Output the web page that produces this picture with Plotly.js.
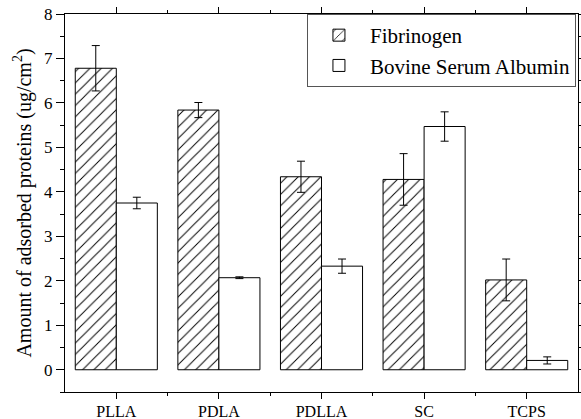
<!DOCTYPE html>
<html><head><meta charset="utf-8">
<script src="https://cdn.plot.ly/plotly-3.0.1.min.js"></script>
<style>html,body{margin:0;padding:0;background:#fff}#chart{width:581px;height:419px}</style>
</head><body><div id="chart"></div>
<script>
const categories = ["PLLA", "PDLA", "PDLLA", "SC", "TCPS"];
const fibrinogen = [6.78, 5.84, 4.34, 4.28, 2.02];
const fibrinogenErr = [0.51, 0.17, 0.35, 0.58, 0.47];
const bsa = [3.75, 2.07, 2.33, 5.47, 0.21];
const bsaErr = [0.13, 0.02, 0.16, 0.33, 0.08];
const seriesNames = ["Fibrinogen", "Bovine Serum Albumin"];

const xpos = categories.map((c, i) => i);
const font = {family: "'Liberation Serif', 'DejaVu Serif', serif", color: "#000"};

const traces = [
  {type: "bar", name: seriesNames[0], x: xpos, y: fibrinogen,
   error_y: {type: "data", array: fibrinogenErr, visible: true, color: "#000", thickness: 1, width: 4},
   marker: {color: "#fff", line: {color: "#000", width: 1},
            pattern: {shape: "/", fgcolor: "#000", bgcolor: "#fff", size: 8, solidity: 0.12}}},
  {type: "bar", name: seriesNames[1], x: xpos, y: bsa,
   error_y: {type: "data", array: bsaErr, visible: true, color: "#000", thickness: 1, width: 4},
   marker: {color: "#fff", line: {color: "#000", width: 1}}}
];

const layout = {
  width: 581, height: 419,
  margin: {l: 65, r: 3, t: 14, b: 27},
  paper_bgcolor: "#fff", plot_bgcolor: "#fff",
  font: Object.assign({size: 16}, font),
  barmode: "group", bargap: 0.2, bargroupgap: 0,
  showlegend: true,
  legend: {x: 0.996, y: 1, xanchor: "right", yanchor: "top", itemwidth: 52,
           bgcolor: "#fff", bordercolor: "#555", borderwidth: 1,
           font: Object.assign({size: 21}, font), tracegroupgap: 0},
  xaxis: {range: [-0.5, 4.5], tickmode: "array", tickvals: xpos, ticktext: categories,
          ticks: "outside", ticklen: 6, tickcolor: "#000", showline: true, linecolor: "#000", linewidth: 1,
          mirror: "ticks", showgrid: false, zeroline: false, tickfont: Object.assign({size: 16}, font),
          ticklabelstandoff: -1,
          minor: {tickmode: "array", tickvals: [0.5, 1.5, 2.5, 3.5], ticks: "outside", ticklen: 3, tickcolor: "#000", showgrid: false}},
  yaxis: {range: [-0.5, 8], dtick: 1, tick0: 0, ticks: "outside", ticklen: 8, tickcolor: "#000",
          showline: true, linecolor: "#000", linewidth: 1, mirror: "ticks", showgrid: false, zeroline: false,
          tickfont: Object.assign({size: 17}, font),
          minor: {dtick: 0.5, tick0: 0, ticks: "outside", ticklen: 4, tickcolor: "#000", showgrid: false},
          title: {text: "Amount of adsorbed proteins (ug/cm<sup>2</sup>)", font: Object.assign({size: 20}, font), standoff: 7}}
};

Plotly.newPlot("chart", traces, layout, {staticPlot: true, displayModeBar: false});
</script>
</body></html>
